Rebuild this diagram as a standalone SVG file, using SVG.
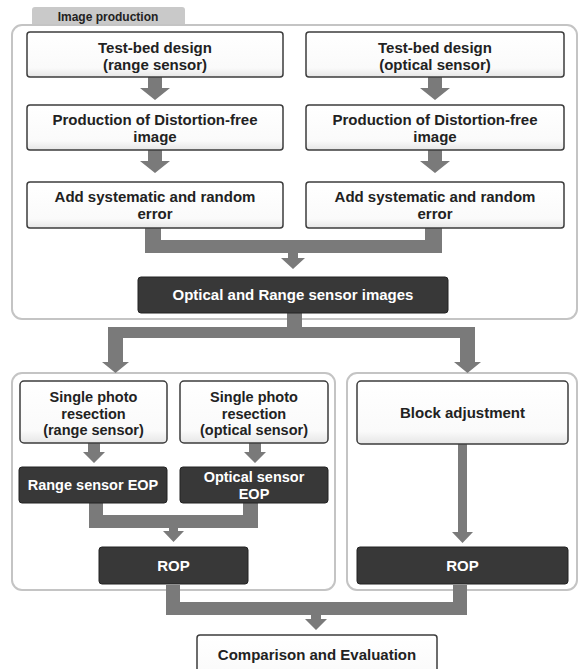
<svg xmlns="http://www.w3.org/2000/svg" width="580" height="669" viewBox="0 0 580 669">
<defs>
<linearGradient id="wg" x1="0" y1="0" x2="0" y2="1">
<stop offset="0" stop-color="#ffffff"/>
<stop offset="0.8" stop-color="#fafafa"/>
<stop offset="1" stop-color="#e6e6e6"/>
</linearGradient>
<style>
.cont{fill:#ffffff;stroke:#c4c4c4;stroke-width:2}
.wbox{fill:url(#wg);stroke:#3c3c3c;stroke-width:1.5}
.dbox{fill:#383838;stroke:#222222;stroke-width:1}
.t{font-family:"Liberation Sans",Arial,sans-serif;font-weight:bold;font-size:15px;fill:#222222;text-anchor:middle}
.s{font-size:14.5px}
.tw{fill:#ffffff}
.tab{fill:#c9c9c9}
.tt{font-size:12px}
.c{fill:#7a7a7a;stroke:none}
</style>
</defs>
<rect width="580" height="669" fill="#ffffff"/>

<g id="image-production">
<path class="tab" d="M32,25 V10 Q32,7 35,7 H182 Q185,7 185,10 V25 Z"/>
<text class="t tt" x="108" y="21">Image production</text>
<rect class="cont" x="12" y="25" width="565" height="294" rx="10"/>
</g>
<g id="sr-container"><rect class="cont" x="12" y="373" width="323" height="217" rx="10"/></g>
<g id="ba-container"><rect class="cont" x="347" y="373" width="230" height="217" rx="10"/></g>

<g id="connectors">
<polygon class="c" points="148,77 162,77 162,88 170,88 155,100 140,88 148,88"/>
<polygon class="c" points="428,77 442,77 442,88 450,88 435,100 420,88 428,88"/>
<polygon class="c" points="148,150 162,150 162,161 170,161 155,173 140,161 148,161"/>
<polygon class="c" points="428,150 442,150 442,161 450,161 435,173 420,161 428,161"/>
<polygon class="c" points="145,228 161,228 161,240 425,240 425,228 442,228 442,253 298,253 298,258 305,258 293,269 281,258 288,258 288,253 145,253"/>
<polygon class="c" points="287,313 302,313 302,327 475,327 475,362 481,362 467.5,373 454,362 460,362 460,338 123,338 123,362 129,362 115.5,373 102,362 108,362 108,327 287,327"/>
<polygon class="c" points="88,443 100,443 100,452 105,452 94,463 83,452 88,452"/>
<polygon class="c" points="249,443 261,443 261,452 266,452 255,463 244,452 249,452"/>
<polygon class="c" points="89,503 103,503 103,515 243,515 243,503 258,503 258,528 178,528 178,531 184,531 173.5,542 163,531 169,531 169,528 89,528"/>
<polygon class="c" points="458,444 467,444 467,532 473,532 462.5,543 452,532 458,532"/>
<polygon class="c" points="166,585 180,585 180,602 453,602 453,585 467,585 467,615 321,615 321,619 327,619 316,630 305,619 311,619 311,615 166,615"/>
</g>

<g id="tb-range"><rect class="wbox" x="27" y="32" width="256" height="45" rx="3"/>
<text class="t" x="155" y="53">Test-bed design</text><text class="t" x="155" y="70">(range sensor)</text></g>
<g id="tb-optical"><rect class="wbox" x="306" y="32" width="258" height="45" rx="3"/>
<text class="t" x="435" y="53">Test-bed design</text><text class="t" x="435" y="70">(optical sensor)</text></g>

<g id="dfree-range"><rect class="wbox" x="27" y="105" width="256" height="45" rx="3"/>
<text class="t" x="155" y="124.5">Production of Distortion-free</text><text class="t" x="155" y="141.5">image</text></g>
<g id="dfree-optical"><rect class="wbox" x="306" y="105" width="258" height="45" rx="3"/>
<text class="t" x="435" y="124.5">Production of Distortion-free</text><text class="t" x="435" y="141.5">image</text></g>

<g id="err-range"><rect class="wbox" x="27" y="182" width="256" height="46" rx="3"/>
<text class="t" x="155" y="201.5">Add systematic and random</text><text class="t" x="155" y="218.5">error</text></g>
<g id="err-optical"><rect class="wbox" x="306" y="182" width="258" height="46" rx="3"/>
<text class="t" x="435" y="201.5">Add systematic and random</text><text class="t" x="435" y="218.5">error</text></g>

<g id="images"><rect class="dbox" x="138" y="277" width="310" height="36" rx="3"/>
<text class="t tw" x="293" y="300">Optical and Range sensor images</text></g>

<g id="spr-range"><rect class="wbox" x="20" y="381" width="147" height="62" rx="4"/>
<text class="t s" x="93.5" y="402">Single photo</text><text class="t s" x="93.5" y="418.5">resection</text><text class="t s" x="93.5" y="435">(range sensor)</text></g>
<g id="spr-optical"><rect class="wbox" x="180" y="381" width="148" height="62" rx="4"/>
<text class="t s" x="254" y="402">Single photo</text><text class="t s" x="254" y="418.5">resection</text><text class="t s" x="254" y="435">(optical sensor)</text></g>

<g id="eop-range"><rect class="dbox" x="19" y="467" width="148" height="36" rx="3"/>
<text class="t tw s" x="93" y="490">Range sensor EOP</text></g>
<g id="eop-optical"><rect class="dbox" x="180" y="467" width="148" height="36" rx="3"/>
<text class="t tw s" x="254" y="482">Optical sensor</text><text class="t tw s" x="254" y="498.5">EOP</text></g>

<g id="rop-left"><rect class="dbox" x="99" y="547" width="149" height="37" rx="3"/>
<text class="t tw" x="173.5" y="570.5">ROP</text></g>

<g id="block-adjustment"><rect class="wbox" x="357" y="381" width="211" height="63" rx="4"/>
<text class="t" x="462.5" y="418">Block adjustment</text></g>

<g id="rop-right"><rect class="dbox" x="357" y="547" width="211" height="37" rx="3"/>
<text class="t tw" x="462.5" y="570.5">ROP</text></g>

<g id="comparison"><rect class="wbox" x="197" y="635" width="240" height="50" rx="3"/>
<text class="t" x="317" y="659.5">Comparison and Evaluation</text></g>
</svg>
